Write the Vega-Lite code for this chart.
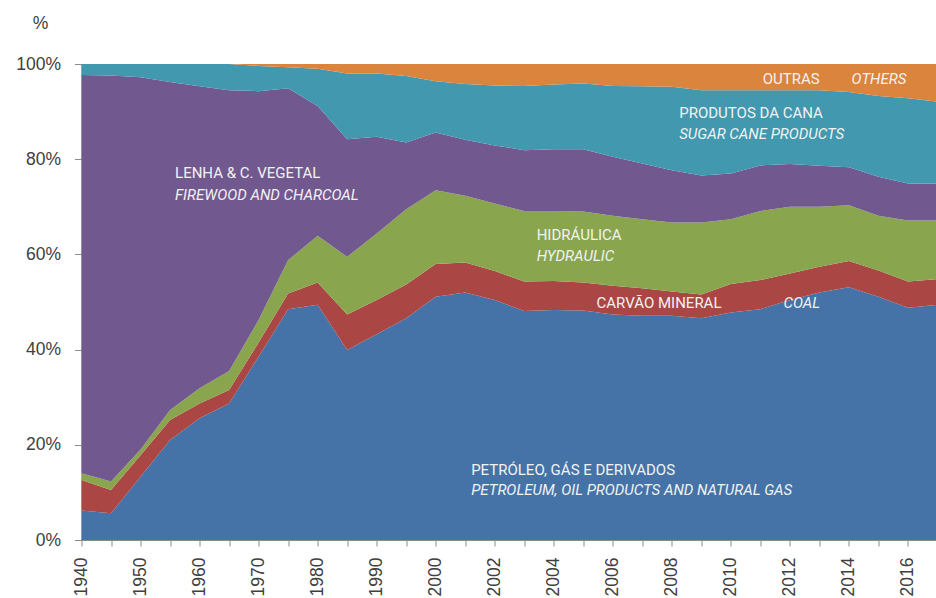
{
  "$schema": "https://vega.github.io/schema/vega-lite/v6.json",
  "width": 856,
  "height": 476,
  "autosize": {"type": "none"},
  "padding": {"left": 81.5, "top": 64, "right": 0, "bottom": 58},
  "background": "white",
  "config": {"view": {"stroke": null}, "font": "Liberation Sans"},
  "datasets": {
    "energy": [
      {"year":"1940","src":"petroleo","k":1,"v":6.2},{"year":"1940","src":"carvao","k":2,"v":6.4},{"year":"1940","src":"hidraulica","k":3,"v":1.4},{"year":"1940","src":"lenha","k":4,"v":83.7},{"year":"1940","src":"cana","k":5,"v":2.3},{"year":"1940","src":"outras","k":6,"v":0},
      {"year":"1945","src":"petroleo","k":1,"v":5.6},{"year":"1945","src":"carvao","k":2,"v":4.9},{"year":"1945","src":"hidraulica","k":3,"v":1.8},{"year":"1945","src":"lenha","k":4,"v":85.3},{"year":"1945","src":"cana","k":5,"v":2.4},{"year":"1945","src":"outras","k":6,"v":0},
      {"year":"1950","src":"petroleo","k":1,"v":13.3},{"year":"1950","src":"carvao","k":2,"v":4.5},{"year":"1950","src":"hidraulica","k":3,"v":1.2},{"year":"1950","src":"lenha","k":4,"v":78.2},{"year":"1950","src":"cana","k":5,"v":2.8},{"year":"1950","src":"outras","k":6,"v":0},
      {"year":"1955","src":"petroleo","k":1,"v":21.0},{"year":"1955","src":"carvao","k":2,"v":4.2},{"year":"1955","src":"hidraulica","k":3,"v":2.1},{"year":"1955","src":"lenha","k":4,"v":68.9},{"year":"1955","src":"cana","k":5,"v":3.8},{"year":"1955","src":"outras","k":6,"v":0},
      {"year":"1960","src":"petroleo","k":1,"v":25.6},{"year":"1960","src":"carvao","k":2,"v":3.1},{"year":"1960","src":"hidraulica","k":3,"v":3.2},{"year":"1960","src":"lenha","k":4,"v":63.4},{"year":"1960","src":"cana","k":5,"v":4.7},{"year":"1960","src":"outras","k":6,"v":0},
      {"year":"1965","src":"petroleo","k":1,"v":28.7},{"year":"1965","src":"carvao","k":2,"v":2.8},{"year":"1965","src":"hidraulica","k":3,"v":4.0},{"year":"1965","src":"lenha","k":4,"v":59.0},{"year":"1965","src":"cana","k":5,"v":5.5},{"year":"1965","src":"outras","k":6,"v":0},
      {"year":"1970","src":"petroleo","k":1,"v":38.5},{"year":"1970","src":"carvao","k":2,"v":3.0},{"year":"1970","src":"hidraulica","k":3,"v":4.7},{"year":"1970","src":"lenha","k":4,"v":48.1},{"year":"1970","src":"cana","k":5,"v":5.3},{"year":"1970","src":"outras","k":6,"v":0.4},
      {"year":"1975","src":"petroleo","k":1,"v":48.5},{"year":"1975","src":"carvao","k":2,"v":3.3},{"year":"1975","src":"hidraulica","k":3,"v":7.0},{"year":"1975","src":"lenha","k":4,"v":36.1},{"year":"1975","src":"cana","k":5,"v":4.4},{"year":"1975","src":"outras","k":6,"v":0.7},
      {"year":"1980","src":"petroleo","k":1,"v":49.4},{"year":"1980","src":"carvao","k":2,"v":4.7},{"year":"1980","src":"hidraulica","k":3,"v":9.8},{"year":"1980","src":"lenha","k":4,"v":27.3},{"year":"1980","src":"cana","k":5,"v":7.8},{"year":"1980","src":"outras","k":6,"v":1.0},
      {"year":"1985","src":"petroleo","k":1,"v":39.9},{"year":"1985","src":"carvao","k":2,"v":7.5},{"year":"1985","src":"hidraulica","k":3,"v":12.1},{"year":"1985","src":"lenha","k":4,"v":24.7},{"year":"1985","src":"cana","k":5,"v":13.8},{"year":"1985","src":"outras","k":6,"v":2.0},
      {"year":"1990","src":"petroleo","k":1,"v":43.2},{"year":"1990","src":"carvao","k":2,"v":7.2},{"year":"1990","src":"hidraulica","k":3,"v":14.0},{"year":"1990","src":"lenha","k":4,"v":20.3},{"year":"1990","src":"cana","k":5,"v":13.3},{"year":"1990","src":"outras","k":6,"v":2.0},
      {"year":"1995","src":"petroleo","k":1,"v":46.6},{"year":"1995","src":"carvao","k":2,"v":7.1},{"year":"1995","src":"hidraulica","k":3,"v":15.8},{"year":"1995","src":"lenha","k":4,"v":14.0},{"year":"1995","src":"cana","k":5,"v":14.0},{"year":"1995","src":"outras","k":6,"v":2.5},
      {"year":"2000","src":"petroleo","k":1,"v":51.1},{"year":"2000","src":"carvao","k":2,"v":6.9},{"year":"2000","src":"hidraulica","k":3,"v":15.5},{"year":"2000","src":"lenha","k":4,"v":12.1},{"year":"2000","src":"cana","k":5,"v":10.8},{"year":"2000","src":"outras","k":6,"v":3.6},
      {"year":"2001","src":"petroleo","k":1,"v":52.0},{"year":"2001","src":"carvao","k":2,"v":6.3},{"year":"2001","src":"hidraulica","k":3,"v":14.0},{"year":"2001","src":"lenha","k":4,"v":11.8},{"year":"2001","src":"cana","k":5,"v":11.7},{"year":"2001","src":"outras","k":6,"v":4.2},
      {"year":"2002","src":"petroleo","k":1,"v":50.4},{"year":"2002","src":"carvao","k":2,"v":6.1},{"year":"2002","src":"hidraulica","k":3,"v":14.2},{"year":"2002","src":"lenha","k":4,"v":12.2},{"year":"2002","src":"cana","k":5,"v":12.6},{"year":"2002","src":"outras","k":6,"v":4.5},
      {"year":"2003","src":"petroleo","k":1,"v":48.1},{"year":"2003","src":"carvao","k":2,"v":6.2},{"year":"2003","src":"hidraulica","k":3,"v":14.8},{"year":"2003","src":"lenha","k":4,"v":12.8},{"year":"2003","src":"cana","k":5,"v":13.5},{"year":"2003","src":"outras","k":6,"v":4.6},
      {"year":"2004","src":"petroleo","k":1,"v":48.3},{"year":"2004","src":"carvao","k":2,"v":6.1},{"year":"2004","src":"hidraulica","k":3,"v":14.7},{"year":"2004","src":"lenha","k":4,"v":13.0},{"year":"2004","src":"cana","k":5,"v":13.6},{"year":"2004","src":"outras","k":6,"v":4.3},
      {"year":"2005","src":"petroleo","k":1,"v":48.2},{"year":"2005","src":"carvao","k":2,"v":5.9},{"year":"2005","src":"hidraulica","k":3,"v":14.9},{"year":"2005","src":"lenha","k":4,"v":13.1},{"year":"2005","src":"cana","k":5,"v":13.8},{"year":"2005","src":"outras","k":6,"v":4.1},
      {"year":"2006","src":"petroleo","k":1,"v":47.4},{"year":"2006","src":"carvao","k":2,"v":6.0},{"year":"2006","src":"hidraulica","k":3,"v":14.7},{"year":"2006","src":"lenha","k":4,"v":12.4},{"year":"2006","src":"cana","k":5,"v":14.9},{"year":"2006","src":"outras","k":6,"v":4.6},
      {"year":"2007","src":"petroleo","k":1,"v":47.1},{"year":"2007","src":"carvao","k":2,"v":5.8},{"year":"2007","src":"hidraulica","k":3,"v":14.5},{"year":"2007","src":"lenha","k":4,"v":11.7},{"year":"2007","src":"cana","k":5,"v":16.2},{"year":"2007","src":"outras","k":6,"v":4.7},
      {"year":"2008","src":"petroleo","k":1,"v":47.1},{"year":"2008","src":"carvao","k":2,"v":5.1},{"year":"2008","src":"hidraulica","k":3,"v":14.5},{"year":"2008","src":"lenha","k":4,"v":11.0},{"year":"2008","src":"cana","k":5,"v":17.5},{"year":"2008","src":"outras","k":6,"v":4.8},
      {"year":"2009","src":"petroleo","k":1,"v":46.6},{"year":"2009","src":"carvao","k":2,"v":5.0},{"year":"2009","src":"hidraulica","k":3,"v":15.1},{"year":"2009","src":"lenha","k":4,"v":9.9},{"year":"2009","src":"cana","k":5,"v":17.9},{"year":"2009","src":"outras","k":6,"v":5.5},
      {"year":"2010","src":"petroleo","k":1,"v":47.8},{"year":"2010","src":"carvao","k":2,"v":6.0},{"year":"2010","src":"hidraulica","k":3,"v":13.6},{"year":"2010","src":"lenha","k":4,"v":9.6},{"year":"2010","src":"cana","k":5,"v":17.5},{"year":"2010","src":"outras","k":6,"v":5.5},
      {"year":"2011","src":"petroleo","k":1,"v":48.5},{"year":"2011","src":"carvao","k":2,"v":6.1},{"year":"2011","src":"hidraulica","k":3,"v":14.5},{"year":"2011","src":"lenha","k":4,"v":9.6},{"year":"2011","src":"cana","k":5,"v":15.8},{"year":"2011","src":"outras","k":6,"v":5.5},
      {"year":"2012","src":"petroleo","k":1,"v":50.4},{"year":"2012","src":"carvao","k":2,"v":5.6},{"year":"2012","src":"hidraulica","k":3,"v":14.0},{"year":"2012","src":"lenha","k":4,"v":9.0},{"year":"2012","src":"cana","k":5,"v":15.5},{"year":"2012","src":"outras","k":6,"v":5.5},
      {"year":"2013","src":"petroleo","k":1,"v":52.0},{"year":"2013","src":"carvao","k":2,"v":5.4},{"year":"2013","src":"hidraulica","k":3,"v":12.6},{"year":"2013","src":"lenha","k":4,"v":8.6},{"year":"2013","src":"cana","k":5,"v":15.9},{"year":"2013","src":"outras","k":6,"v":5.5},
      {"year":"2014","src":"petroleo","k":1,"v":53.1},{"year":"2014","src":"carvao","k":2,"v":5.5},{"year":"2014","src":"hidraulica","k":3,"v":11.7},{"year":"2014","src":"lenha","k":4,"v":8.0},{"year":"2014","src":"cana","k":5,"v":15.8},{"year":"2014","src":"outras","k":6,"v":5.9},
      {"year":"2015","src":"petroleo","k":1,"v":51.1},{"year":"2015","src":"carvao","k":2,"v":5.5},{"year":"2015","src":"hidraulica","k":3,"v":11.5},{"year":"2015","src":"lenha","k":4,"v":8.2},{"year":"2015","src":"cana","k":5,"v":17.0},{"year":"2015","src":"outras","k":6,"v":6.7},
      {"year":"2016","src":"petroleo","k":1,"v":48.8},{"year":"2016","src":"carvao","k":2,"v":5.5},{"year":"2016","src":"hidraulica","k":3,"v":12.8},{"year":"2016","src":"lenha","k":4,"v":7.8},{"year":"2016","src":"cana","k":5,"v":17.9},{"year":"2016","src":"outras","k":6,"v":7.2},
      {"year":"2017","src":"petroleo","k":1,"v":49.4},{"year":"2017","src":"carvao","k":2,"v":5.4},{"year":"2017","src":"hidraulica","k":3,"v":12.3},{"year":"2017","src":"lenha","k":4,"v":7.8},{"year":"2017","src":"cana","k":5,"v":17.2},{"year":"2017","src":"outras","k":6,"v":7.9}
    ],
    "labels": [
      {"t":"LENHA & C. VEGETAL","xi":3.17,"p":76.05,"it":0},
      {"t":"FIREWOOD AND CHARCOAL","xi":3.17,"p":71.43,"it":1},
      {"t":"PRODUTOS DA CANA","xi":20.25,"p":88.59,"it":0},
      {"t":"SUGAR CANE PRODUCTS","xi":20.25,"p":84.18,"it":1},
      {"t":"OUTRAS","xi":23.08,"p":95.8,"it":0},
      {"t":"OTHERS","xi":26.09,"p":95.8,"it":1},
      {"t":"HIDRÁULICA","xi":15.42,"p":63.03,"it":0},
      {"t":"HYDRAULIC","xi":15.42,"p":58.61,"it":1},
      {"t":"CARVÃO MINERAL","xi":17.45,"p":48.68,"it":0},
      {"t":"COAL","xi":23.78,"p":48.68,"it":1},
      {"t":"PETRÓLEO, GÁS E DERIVADOS","xi":13.2,"p":13.59,"it":0},
      {"t":"PETROLEUM, OIL PRODUCTS AND NATURAL GAS","xi":13.2,"p":9.39,"it":1}
    ]
  },
  "layer": [
    {
      "data": {"name": "energy"},
      "mark": {"type": "area"},
      "encoding": {
        "x": {
          "field": "year", "type": "ordinal",
          "scale": {"type": "point", "padding": 0},
          "axis": {
            "title": null, "labelAngle": -90, "labelFont": "Liberation Sans", "labelFontSize": 17.5,
            "labelColor": "#404040", "tickColor": "#8a8a8a", "domainColor": "#8a8a8a", "tickSize": 6,
            "labelPadding": 11, "grid": false, "labelOverlap": false,
            "labelExpr": "((+datum.value <= 2000) ? (+datum.value % 10 == 0) : (+datum.value % 2 == 0)) ? datum.value : ''"
          }
        },
        "y": {
          "field": "v", "type": "quantitative", "stack": "zero",
          "scale": {"domain": [0, 100], "nice": false},
          "axis": {
            "values": [0, 20, 40, 60, 80, 100], "labelExpr": "datum.value + '%'", "grid": false,
            "labelFont": "Liberation Sans", "labelFontSize": 17.5, "labelColor": "#404040",
            "tickColor": "#8a8a8a", "domainColor": "#8a8a8a", "tickSize": 7, "labelPadding": 14,
            "title": "%", "titleAngle": 0, "titleX": -41.5, "titleY": -36, "titleAlign": "center",
            "titleBaseline": "alphabetic", "titleFont": "Liberation Sans", "titleFontSize": 17.5,
            "titleFontWeight": "normal", "titleColor": "#404040"
          }
        },
        "color": {
          "field": "src", "type": "nominal", "legend": null,
          "scale": {
            "domain": ["petroleo", "carvao", "hidraulica", "lenha", "cana", "outras"],
            "range": ["#4573A7", "#AA4643", "#89A54E", "#71588F", "#4198AF", "#DB843D"]
          }
        },
        "order": {"field": "k", "type": "quantitative"}
      }
    },
    {
      "data": {"name": "labels"},
      "transform": [{"filter": "datum.it == 0"}],
      "mark": {"type": "text", "align": "left", "baseline": "alphabetic", "font": "Roboto", "fontSize": 15, "color": "#f2f2f2"},
      "encoding": {
        "x": {"field": "xi", "type": "quantitative", "scale": {"domain": [0, 29], "nice": false, "zero": false}, "axis": null},
        "y": {"field": "p", "type": "quantitative"},
        "text": {"field": "t"}
      }
    },
    {
      "data": {"name": "labels"},
      "transform": [{"filter": "datum.it == 1"}],
      "mark": {"type": "text", "align": "left", "baseline": "alphabetic", "font": "Roboto", "fontSize": 15, "fontStyle": "italic", "color": "#f2f2f2"},
      "encoding": {
        "x": {"field": "xi", "type": "quantitative", "scale": {"domain": [0, 29], "nice": false, "zero": false}, "axis": null},
        "y": {"field": "p", "type": "quantitative"},
        "text": {"field": "t"}
      }
    }
  ],
  "resolve": {"scale": {"x": "independent"}}
}
